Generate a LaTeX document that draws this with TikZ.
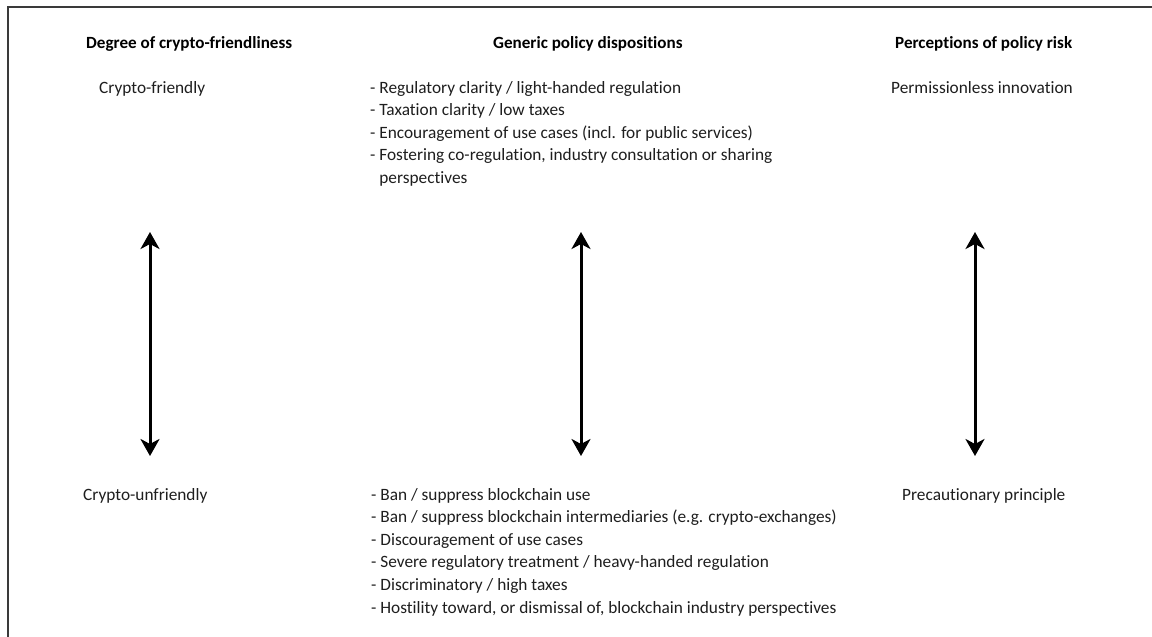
\documentclass[tikz,border=0pt]{standalone}
\usepackage{fontspec}
\setmainfont{Carlito}[Ligatures=NoCommon]
\usetikzlibrary{arrows.meta}
\definecolor{textc}{HTML}{1E1E1E}
\definecolor{framec}{HTML}{3A3A3A}
\begin{document}
\begin{tikzpicture}[x=1pt,y=-1pt,
  txt/.style={anchor=base west, inner sep=0pt, font=\fontsize{17.3}{22.5}\selectfont, text=textc},
  hdr/.style={anchor=base west, inner sep=0pt, font=\fontsize{17.1}{22.5}\selectfont\bfseries, text=black},
  dblarrow/.style={{Stealth[length=17pt,width=19pt,inset=5pt]}-{Stealth[length=17pt,width=19pt,inset=5pt]}, line width=3pt, black}]
\useasboundingbox[fill=white] (0,0) rectangle (1152,637);
% frame (top and left edges)
\coordinate (ftr) at (1152,7);
\coordinate (ftl) at (8,7);
\coordinate (fbl) at (8,637);
\draw[framec, line width=2pt] (ftr) -- (ftl) -- (fbl);
% headers
\node[hdr] (h1) at (86,48) {Degree of crypto-friendliness};
\node[hdr] (h2) at (493,48) {Generic policy dispositions};
\node[hdr] (h3) at (895,48) {Perceptions of policy risk};
% top row
\node[txt] (cf) at (99,93) {Crypto-friendly};
\node[txt] (pi) at (891,93) {Permissionless innovation};
\node[txt] (t1) at (370,93) {- Regulatory clarity / light-handed regulation};
\node[txt] (t2) at (370,115.5) {- Taxation clarity / low taxes};
\node[txt] (t3) at (370,138) {- Encouragement of use cases (incl. for public services)};
\node[txt] (t4) at (370,160.5) {- Fostering co-regulation, industry consultation or sharing};
\node[txt] (t5) at (370,183) {\phantom{- }perspectives};
% bottom row
\node[txt] (cu) at (83,500) {Crypto-unfriendly};
\node[txt] (pp) at (902,500) {Precautionary principle};
\node[txt] (b1) at (371,500) {- Ban / suppress blockchain use};
\node[txt] (b2) at (371,522.6) {- Ban / suppress blockchain intermediaries (e.g. crypto-exchanges)};
\node[txt] (b3) at (371,545.2) {- Discouragement of use cases};
\node[txt] (b4) at (371,567.8) {- Severe regulatory treatment / heavy-handed regulation};
\node[txt] (b5) at (371,590.4) {- Discriminatory / high taxes};
\node[txt] (b6) at (371,613) {- Hostility toward, or dismissal of, blockchain industry perspectives};
% arrows
\coordinate (a1t) at (150,232);
\coordinate (a1b) at (150,456);
\coordinate (a2t) at (581,232);
\coordinate (a2b) at (581,456);
\coordinate (a3t) at (975,232);
\coordinate (a3b) at (975,456);
\draw[dblarrow] (a1t) -- (a1b);
\draw[dblarrow] (a2t) -- (a2b);
\draw[dblarrow] (a3t) -- (a3b);
\end{tikzpicture}
\end{document}
